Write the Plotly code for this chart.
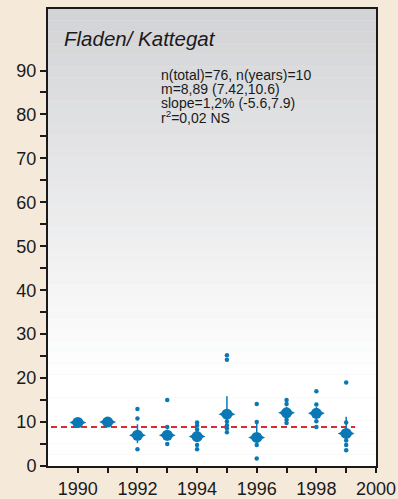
import plotly.graph_objects as go

# ---- data ----
years = [1990, 1991, 1992, 1993, 1994, 1995, 1996, 1997, 1998, 1999]
means = [9.9, 10.0, 7.0, 7.0, 6.7, 11.8, 6.5, 12.1, 12.0, 7.4]
ci_low = [9.3, 9.4, 5.2, 5.8, 5.4, 9.5, 4.8, 10.8, 10.6, 5.5]
ci_high = [10.5, 10.6, 9.5, 8.3, 8.0, 15.9, 10.0, 13.5, 13.4, 11.2]

obs_years = [1992, 1992, 1992,
             1993, 1993, 1993,
             1994, 1994, 1994, 1994, 1994,
             1995, 1995, 1995, 1995, 1995, 1995,
             1996, 1996, 1996, 1996,
             1997, 1997, 1997, 1997,
             1998, 1998, 1998, 1998,
             1999, 1999, 1999, 1999, 1999]
obs_values = [13.0, 10.8, 3.8,
              15.0, 8.9, 5.0,
              9.9, 9.2, 8.3, 4.8, 3.8,
              25.2, 24.2, 10.1, 9.3, 8.6, 7.7,
              14.1, 10.0, 4.8, 1.7,
              15.0, 14.1, 10.5, 9.8,
              17.0, 14.0, 10.2, 8.9,
              19.0, 9.9, 5.8, 4.8, 3.6]

overall_mean = 8.89
line_start = 1989.1
line_end = 1999.3

x_tick_vals = list(range(1990, 2001))
x_tick_text = ["1990", "", "1992", "", "1994", "", "1996", "", "1998", "", "2000"]
y_tick_vals = list(range(0, 91, 10))
y_tick_text = ["0", "10", "20", "30", "40", "50", "60", "70", "80", "90"]
y_minor_vals = list(range(5, 90, 10))

title_text = "Fladen/ Kattegat"
stats_lines = ["n(total)=76, n(years)=10",
               "m=8,89 (7.42,10.6)",
               "slope=1,2% (-5.6,7.9)",
               "r<sup>2</sup>=0,02 NS"]

BLUE = "#0a78b4"
RED = "#dc2a32"

fig = go.Figure()

# gradient background bands (styling)
n_bands = 40
top_rgb = (210, 211, 214)
for i in range(n_bands):
    y0 = 1 - (i + 1) / n_bands
    y1 = 1 - i / n_bands
    t = min(1.0, (i + 0.5) / (n_bands * 0.8))
    c = tuple(int(round(a + (255 - a) * t)) for a in top_rgb)
    fig.add_shape(type="rect", xref="paper", yref="paper", x0=0, x1=1, y0=y0, y1=y1,
                  fillcolor="rgb(%d,%d,%d)" % c, line=dict(width=0), layer="below")

# mean reference line
fig.add_trace(go.Scatter(x=[line_start, line_end], y=[overall_mean, overall_mean],
                         mode="lines", line=dict(color=RED, width=2, dash="6px,4px"),
                         hoverinfo="skip", showlegend=False))

# confidence interval lines
ci_x, ci_y = [], []
for yr, lo, hi in zip(years, ci_low, ci_high):
    ci_x += [yr, yr, None]
    ci_y += [lo, hi, None]
fig.add_trace(go.Scatter(x=ci_x, y=ci_y, mode="lines",
                         line=dict(color=BLUE, width=1.5), showlegend=False))

# individual observations
fig.add_trace(go.Scatter(x=obs_years, y=obs_values, mode="markers",
                         marker=dict(color=BLUE, size=4.5, symbol="circle",
                                     line=dict(width=0)), showlegend=False))

# yearly means (blobs)
fig.add_trace(go.Scatter(x=years, y=means, mode="markers",
                         marker=dict(color=BLUE, size=12, symbol="diamond-wide",
                                     line=dict(width=0)), showlegend=False))
fig.add_trace(go.Scatter(x=years, y=means, mode="markers",
                         marker=dict(color=BLUE, size=11, symbol="circle",
                                     line=dict(width=0)), showlegend=False))

fig.add_annotation(text=title_text, xref="paper", yref="paper", x=0.042, y=0.935,
                   xanchor="left", yanchor="middle", showarrow=False,
                   font=dict(family="Liberation Sans", size=20.5, color="#1a1a1a",
                             style="italic"))
for k, line in enumerate(stats_lines):
    fig.add_annotation(text=line, xref="paper", yref="paper", x=0.338,
                       y=0.8556 - k * 0.0306,
                       xanchor="left", yanchor="middle", align="left", showarrow=False,
                       font=dict(family="Liberation Sans", size=14, color="#1a1a1a"))

fig.update_layout(
    width=398, height=499,
    margin=dict(l=48, r=22, t=9, b=33),
    paper_bgcolor="#f5e9da",
    plot_bgcolor="rgba(0,0,0,0)",
    showlegend=False,
    font=dict(family="Liberation Sans", size=18, color="#1a1a1a"),
)
fig.update_xaxes(range=[1989, 2000], tickmode="array", tickvals=x_tick_vals,
                 ticktext=x_tick_text, ticks="outside", ticklen=5, tickwidth=1.5,
                 tickcolor="#1a1a1a", showgrid=False, zeroline=False, automargin=False,
                 showline=True, linecolor="#1a1a1a", linewidth=2, mirror=True)
fig.update_yaxes(range=[0, 104], tickmode="array", tickvals=y_tick_vals,
                 ticktext=y_tick_text, ticks="outside", ticklen=6, tickwidth=1.5,
                 tickcolor="#1a1a1a", showgrid=False, zeroline=False, automargin=False,
                 minor=dict(tickmode="array", tickvals=y_minor_vals, ticks="outside",
                            ticklen=6, tickwidth=1.5, tickcolor="#1a1a1a",
                            showgrid=False),
                 showline=True, linecolor="#1a1a1a", linewidth=2, mirror=True)

fig.write_html("out.html",
               config={"displayModeBar": False},
               post_script="document.body.style.margin='0';"
                           "document.body.style.padding='0';"
                           "document.body.style.overflow='hidden';")
